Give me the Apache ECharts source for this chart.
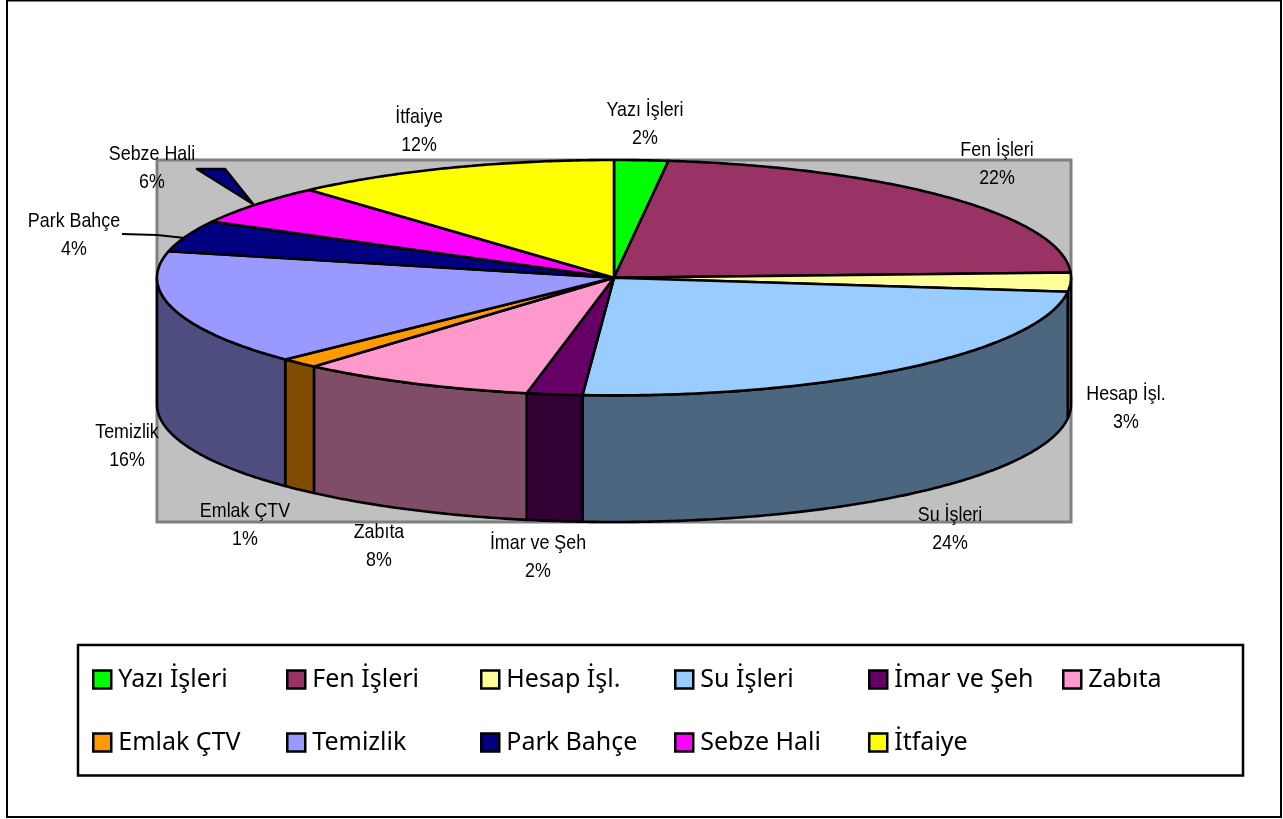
<!DOCTYPE html>
<html>
<head>
<meta charset="utf-8">
<style>html,body{margin:0;padding:0;background:#fff}#c{width:1283px;height:819px}</style>
<script src="https://cdn.jsdelivr.net/npm/echarts@6/dist/echarts.min.js"></script>
</head>
<body>
<div id="c"></div>
<script>
// Excel-style 3D pie. ECharts has no tilted pie, so every slice is a custom series
// that turns its share of the total into an ellipse arc through the axes.
const categories = ['Yazı İşleri', 'Fen İşleri', 'Hesap İşl.', 'Su İşleri', 'İmar ve Şeh', 'Zabıta',
  'Emlak ÇTV', 'Temizlik', 'Park Bahçe', 'Sebze Hali', 'İtfaiye'];
const shares = [1.9, 22.4, 2.6, 24.2, 1.96, 8.34, 1.38, 15.82, 4.3, 5.5, 11.6];
const topColors = ['#00FF00', '#993366', '#FFFF99', '#99CCFF', '#660066', '#FF99CC',
  '#FF9900', '#9999FF', '#000080', '#FF00FF', '#FFFF00'];
const wallColors = ['#008000', '#4D1A33', '#80804D', '#4D6680', '#330033', '#804D66',
  '#804D00', '#4D4D80', '#000040', '#800080', '#808000'];

// hand-placed label centres (first line), as in the source chart
const labelAt = [[645, 110], [997, 150], [1126, 394], [950, 515], [538, 543], [379, 532],
  [245, 511], [127, 432], [74, 221], [152, 154], [419, 117]];

// wall height in units of the ellipse's vertical radius
const DEPTH = 1.076;
const total = shares.reduce((a, b) => a + b, 0);

function ringPoint(api, t, drop) {
  return api.coord([Math.sin(t), Math.cos(t) - drop]);
}

function arc(api, from, to, drop) {
  const pts = [];
  const n = Math.max(2, Math.ceil((to - from) / 0.01));
  for (let i = 0; i <= n; i++) pts.push(ringPoint(api, from + (to - from) * i / n, drop));
  return pts;
}

function renderSlice(idx) {
  return function (params, api) {
    const a0 = api.value(0) / total * Math.PI * 2;
    const a1 = api.value(1) / total * Math.PI * 2;
    const line = { stroke: '#000', lineWidth: 2.6, lineJoin: 'round' };
    const children = [];

    // outer wall, only for the part on the front half of the ellipse
    const w0 = Math.max(a0, Math.PI / 2), w1 = Math.min(a1, Math.PI * 1.5);
    if (w1 > w0) {
      const pts = arc(api, w0, w1, 0).concat(arc(api, w0, w1, DEPTH).reverse());
      children.push({ type: 'polygon', shape: { points: pts },
        style: Object.assign({ fill: wallColors[idx] }, line) });
    }

    const top = [api.coord([0, 0])].concat(arc(api, a0, a1, 0));
    children.push({ type: 'polygon', shape: { points: top },
      style: Object.assign({ fill: topColors[idx] }, line) });

    // leader lines of the two moved labels
    if (categories[idx] === 'Park Bahçe') {
      children.push({ type: 'polyline', shape: { points: [[122, 234], [157, 235], [185, 238]] },
        style: { stroke: '#000', lineWidth: 2, fill: null } });
    }
    if (categories[idx] === 'Sebze Hali') {
      children.push({ type: 'polygon', shape: { points: [[197, 169], [225, 169], [253, 204]] },
        style: Object.assign({ fill: '#000080' }, line) });
    }

    const [lx, ly] = labelAt[idx];
    [categories[idx], Math.round(shares[idx] / total * 100) + '%'].forEach((t, i) => {
      children.push({ type: 'text', x: lx, y: ly + i * 28, scaleX: 0.85, z2: 10,
        style: { text: t, fill: '#000', font: '21px "Liberation Sans"', textAlign: 'center', textVerticalAlign: 'middle' } });
    });
    return { type: 'group', children };
  };
}

let run = 0;
const series = categories.map((name, i) => {
  const start = run;
  run += shares[i];
  return {
    type: 'custom', name, silent: true, animation: false,
    coordinateSystem: 'cartesian2d', clip: false,
    itemStyle: { color: topColors[i] },
    renderItem: renderSlice(i),
    encode: { x: 0, y: 1 },
    data: [[start, run]],
  };
});

// one legend per item so the columns line up like the original box
const legends = categories.map((name, i) => ({
  show: true, data: [{ name, icon: 'rect' }], orient: 'horizontal', padding: 0,
  left: 92 + (i < 6 ? i : i - 6) * 194,
  top: i < 6 ? 667 : 730,
  itemWidth: 18, itemHeight: 18, selectedMode: false,
  itemStyle: { borderColor: '#000', borderWidth: 2.5 },
  textStyle: { fontFamily: 'Noto Sans', fontSize: 25, color: '#000', padding: [3, 0, 0, 2] },
}));

const chart = echarts.init(document.getElementById('c'), null, { renderer: 'canvas' });
chart.setOption({
  animation: false,
  backgroundColor: '#fff',
  grid: { left: 157, top: 160, width: 914, height: 362, show: true,
    backgroundColor: '#C0C0C0', borderColor: '#808080', borderWidth: 3 },
  xAxis: { type: 'value', min: -1, max: 1, show: false },
  yAxis: { type: 'value', min: -2.076, max: 1, show: false },
  legend: legends,
  series,
  graphic: [
    { type: 'rect', shape: { x: 7, y: 0.5, width: 1274, height: 816.5 }, silent: true,
      style: { fill: null, stroke: '#000', lineWidth: 2 } },
    { type: 'rect', shape: { x: 78, y: 645, width: 1165, height: 130.5 }, silent: true,
      style: { fill: null, stroke: '#000', lineWidth: 2.5 } },
  ],
});
</script>
</body>
</html>
